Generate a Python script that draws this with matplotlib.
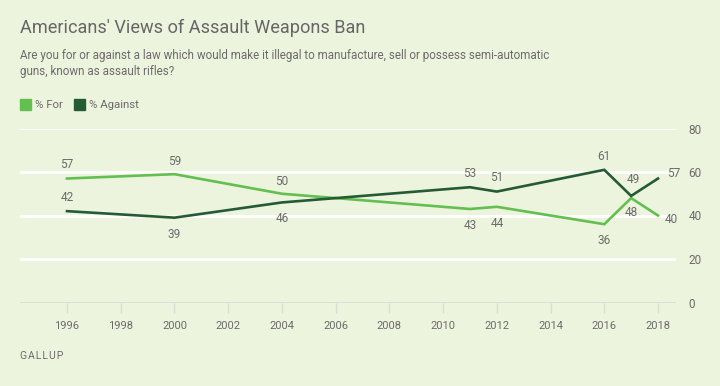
import matplotlib
matplotlib.use("Agg")
import matplotlib.pyplot as plt
from matplotlib.patches import Rectangle

plt.rcParams['font.family'] = ['Roboto', 'DejaVu Sans']

years = [1996, 2000, 2004, 2011, 2012, 2016, 2017, 2018]
pct_for = [57, 59, 50, 43, 44, 36, 48, 40]
pct_against = [42, 39, 46, 53, 51, 61, 49, 57]
xticks = list(range(1996, 2019, 2))
yticks = [0, 20, 40, 60, 80]

# label placement: (dx, dy) screen-pixel offsets (dy positive = downward)
for_offsets = [(0, -14), (0, -13), (0, -12), (0, 17), (0, 17), (0, 16), (0, 14), (7, 4)]
against_offsets = [(0, -14), (0, 17), (0, 16), (0, -14), (0, -14), (0, -13), (2, -16), (9, -5)]

BG = '#edf4de'
C_FOR = '#63bf50'
C_AG = '#245b35'
TXT = '#6b6b6b'

fig = plt.figure(figsize=(7.2, 3.86), dpi=100, facecolor=BG)
ax = fig.add_axes([20/720, 1-302.5/386, (676-20)/720, (302.5-128.5)/386])
ax.set_facecolor(BG)
ax.set_xlim(1994.25, 2018.67)
ax.set_ylim(0, 80)

for y in yticks[1:]:
    ax.axhline(y, color='white', lw=2, zorder=1)
ax.axhline(0, color='#dcdcd4', lw=2, zorder=1)

ax.plot(years, pct_for, color=C_FOR, lw=1.9, zorder=3, solid_joinstyle='miter')
ax.plot(years, pct_against, color=C_AG, lw=1.9, zorder=3, solid_joinstyle='miter')

def label(xs, vs, offs):
    for x, v, (dx, dy) in zip(xs, vs, offs):
        ax.annotate(str(v), (x, v), xytext=(dx*0.72, -dy*0.72), textcoords='offset points',
                    ha='left' if dx > 4 else 'center', va='center', fontsize=8.5, color=TXT)

label(years, pct_for, for_offsets)
label(years, pct_against, against_offsets)

for s in ax.spines.values():
    s.set_visible(False)
ax.set_xticks(xticks)
ax.set_xticklabels([str(t) for t in xticks], fontsize=8, color=TXT)
ax.tick_params(axis='x', length=7, width=1, color='#dcdcd4', pad=6)
ax.yaxis.tick_right()
ax.set_yticks(yticks)
ax.set_yticklabels([str(t) for t in yticks], fontsize=8.5, color=TXT)
ax.tick_params(axis='y', length=0, pad=9)

fig.text(20/720, 1-28/386, "Americans' Views of Assault Weapons Ban", fontsize=13.1,
         color='#666666', va='center', ha='left')
fig.text(20/720, 1-56/386, "Are you for or against a law which would make it illegal to manufacture, sell or possess semi-automatic",
         fontsize=8.4, color=TXT, va='center', ha='left')
fig.text(20/720, 1-72/386, "guns, known as assault rifles?",
         fontsize=8.4, color=TXT, va='center', ha='left')

fig.patches.append(Rectangle((20/720, 1-110/386), 11/720, 11/386, transform=fig.transFigure,
                             color=C_FOR, figure=fig))
fig.text(35/720, 1-105/386, "% For", fontsize=8.2, color=TXT, va='center', ha='left')
fig.patches.append(Rectangle((74/720, 1-110/386), 11/720, 11/386, transform=fig.transFigure,
                             color=C_AG, figure=fig))
fig.text(89/720, 1-105/386, "% Against", fontsize=8.2, color=TXT, va='center', ha='left')

fig.text(20/720, 1-356/386, "G A L L U P".replace(' ', '\u200a'), fontsize=7.5, color=TXT, va='center', ha='left')

fig.savefig('out.png', dpi=100, facecolor=BG)
